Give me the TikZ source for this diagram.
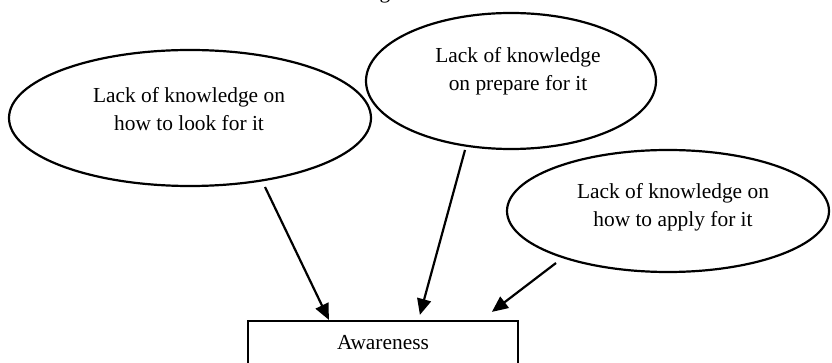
\documentclass[tikz,border=0pt]{standalone}
\usepackage{fontspec}
\setmainfont{Liberation Serif}
\usetikzlibrary{arrows.meta,calc,shapes.geometric}
\begin{document}
\begin{tikzpicture}[x=1pt,y=-1pt,
  bubble/.style={draw,line width=2.2pt,ellipse,inner sep=0pt},
  txt/.style={align=center,font=\fontsize{21.4}{28}\selectfont,inner sep=0pt},
  boxnode/.style={draw,line width=2.2pt,rectangle,inner sep=0pt,minimum width=270pt,minimum height=44pt},
  arr/.style={line width=2.2pt,-{Triangle[length=16pt,width=14pt]}}]
\useasboundingbox (0,0) rectangle (832,363);
\clip (0,0) rectangle (832,363);
% fragment of text cut at the top
\node[txt,anchor=base] (frag) at (385,-1) {g};
% ellipses
\node[bubble,minimum width=362pt,minimum height=136pt] (e1) at (190,118) {};
\node[bubble,minimum width=290pt,minimum height=136pt] (e2) at (511,81) {};
\node[bubble,minimum width=322pt,minimum height=122pt] (e3) at (668,211) {};
% texts
\node[txt] (t1) at (189,109) {Lack of knowledge on\\how to look for it};
\node[txt] (t2) at (518,71) {Lack of knowledge\\on prepare for it};
\node[txt] (t3) at (673,207.5) {Lack of knowledge on\\how to apply for it};
% box
\node[boxnode] (box) at (383,343) {};
\node[txt] (bt) at (383,343) {Awareness};
% connector ends
\coordinate (s1) at (265,187);
\coordinate (s2) at (465,150);
\coordinate (s3) at (556,263);
\coordinate (d1) at ($(box.north west)+(82,0)$);
\coordinate (d2) at ($(box.north west)+(173,-5)$);
\coordinate (d3) at ($(box.north west)+(245,-8)$);
\draw[arr] (s1) -- (d1);
\draw[arr] (s2) -- (d2);
\draw[arr] (s3) -- (d3);
\end{tikzpicture}
\end{document}
